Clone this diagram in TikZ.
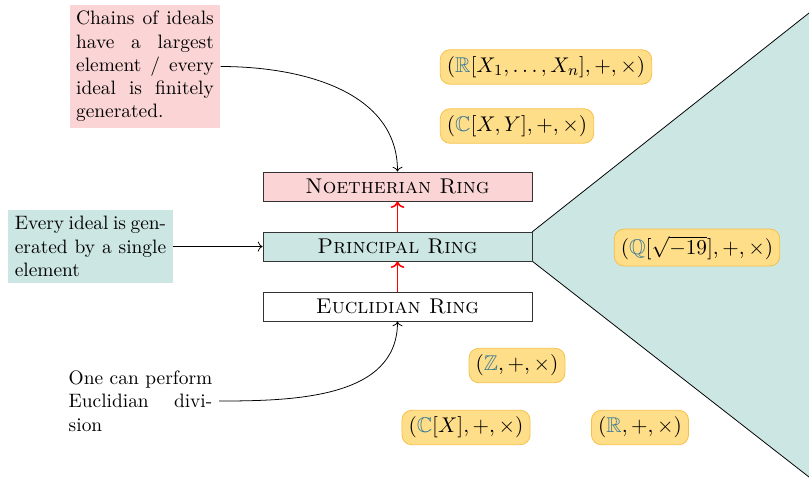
\documentclass[tikz,border=0pt]{standalone}
\usepackage{amsmath,amssymb}
\usetikzlibrary{arrows.meta}
\definecolor{pinkfill}{RGB}{251,213,213}
\definecolor{tealfill}{RGB}{204,230,227}
\definecolor{orfill}{RGB}{255,222,138}
\definecolor{ordraw}{RGB}{246,192,70}
\definecolor{bbcol}{RGB}{55,120,150}
\newcommand{\bbc}[1]{\textcolor{bbcol}{\mathbb{#1}}}
\begin{document}
\begin{tikzpicture}[x=0.5155pt,y=-0.5155pt,
  every node/.style={font=\fontsize{11}{12}\selectfont},
  ringbox/.style={draw=black!80,minimum width=138.7pt,minimum height=15pt,inner sep=0pt},
  notebox/.style={font=\fontsize{10}{12}\selectfont,text width=71pt,align=justify,inner sep=3.3pt},
  example/.style={draw=ordraw,fill=orfill,rounded corners=5pt,inner sep=3.4pt,minimum height=17.5pt},
  >={To}]
\useasboundingbox (0,0) rectangle (809,483);
% big triangle
\fill[tealfill] (532,232) -- (809,13) -- (809,477) -- (532,261) -- cycle;
\draw (532,232) -- (809,13);
\draw (532,261) -- (809,477);
% rings
\node[ringbox,fill=pinkfill] (noeth) at (397.5,186.5) {\textsc{Noetherian Ring}};
\node[ringbox,fill=tealfill] (princ) at (397.5,246.5) {\textsc{Principal Ring}};
\node[ringbox,fill=white] (eucl) at (397.5,306.5) {\textsc{Euclidian Ring}};
\draw[->,red,thick] (eucl.north) -- (princ.south);
\draw[->,red,thick] (princ.north) -- (noeth.south);
% notes
\node[notebox,fill=pinkfill] (chains) at (145,66.5) {Chains of ideals\linebreak have a largest\linebreak element / every\linebreak ideal is finitely\linebreak generated.};
\node[notebox,fill=tealfill,text width=78pt] (every) at (90.5,246.5) {Every ideal is gen-\linebreak erated by a single\linebreak element};
\node[notebox,text width=74pt] (one) at (140.5,401) {One can perform\linebreak Euclidian divi-\linebreak sion};
\draw[->] (chains.east) to[out=0,in=90] (noeth.north);
\draw[->] (every.east) -- (princ.west);
\draw[->] (one.east) to[out=0,in=-90] (eucl.south);
% examples
\node[example] (rn) at (546,67) {$(\bbc{R}[X_1,\dots,X_n],+,\times)$};
\node[example] (cxy) at (517,126) {$(\bbc{C}[X,Y],+,\times)$};
\node[example] (q19) at (697,247.5) {$(\bbc{Q}[\sqrt{-19}],+,\times)$};
\node[example] (z) at (517,365.5) {$(\bbc{Z},+,\times)$};
\node[example] (cx) at (466,427.5) {$(\bbc{C}[X],+,\times)$};
\node[example] (r) at (640,427.5) {$(\bbc{R},+,\times)$};
\end{tikzpicture}
\end{document}
